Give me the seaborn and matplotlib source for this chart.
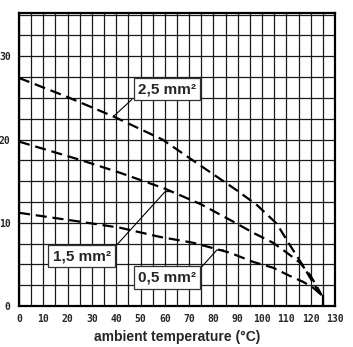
import numpy as np
import seaborn as sns
import matplotlib.pyplot as plt
from matplotlib.ticker import MultipleLocator

# derating curves: ambient temperature (°C) -> current (A)
temp_25 = [0, 20, 39, 59, 74.5, 89.6, 98, 106, 111.5, 116.9, 121.8, 124.5]
curr_25 = [27.4, 25.1, 22.75, 20.0, 16.9, 13.9, 12.1, 9.9, 7.3, 4.8, 2.4, 1.3]

temp_15 = [0, 25.8, 41.6, 60, 75, 89.6, 96.3, 104.5, 110.2, 115.6, 119.8, 123, 124.5]
curr_15 = [19.75, 17.5, 16.0, 14.1, 12.2, 9.9, 8.8, 7.6, 6.4, 5.2, 3.7, 2.1, 1.3]

temp_05 = [0, 25.8, 41.6, 58, 71.6, 86.8, 96.3, 104.5, 111.5, 116.9, 121, 124.5]
curr_05 = [11.2, 10.1, 9.4, 8.3, 7.6, 6.4, 5.3, 4.6, 3.6, 2.9, 2.2, 1.3]

max_temp = 125
x_ticks = list(range(0, 131, 10))
y_ticks = [0, 10, 20, 30]
labels = ["2,5 mm²", "1,5 mm²", "0,5 mm²"]

sns.set_style("white")
fig = plt.figure(figsize=(3.53, 3.47), dpi=100)
ax = fig.add_axes([19 / 353, 41 / 347, 316 / 353, 293 / 347])

for t, c in [(temp_25, curr_25), (temp_15, curr_15), (temp_05, curr_05)]:
    sns.lineplot(x=t, y=c, ax=ax, color="black", lw=1.6, sort=False,
                 estimator=None, linestyle=(0, (5, 2.6)), zorder=3)
ax.vlines(max_temp, 0, curr_25[-1], color="black", lw=1.6, zorder=3)

# leader lines + boxed labels
ax.plot([38.8, 46.4], [22.75, 24.8], color="black", lw=0.8, zorder=2)
ax.plot([40.2, 60.1, 62.8], [7.33, 13.74, 13.74], color="black", lw=0.8, zorder=2)
ax.plot([75.2, 81.4, 84.1], [4.72, 6.73, 6.73], color="black", lw=0.8, zorder=2)

box = dict(boxstyle="square,pad=0.28", fc="white", ec="#333333", lw=0.9)
for (tx, ty), lab in zip([(60.8, 26.06), (25.8, 5.99), (60.8, 3.43)], labels):
    ax.text(tx, ty, lab, ha="center", va="center", fontsize=11,
            fontweight="bold", family="Liberation Sans", bbox=box, zorder=4)

ax.set_xlim(0, 130)
ax.set_ylim(0, 35.2)
ax.set_xticks(x_ticks)
ax.set_yticks(y_ticks)
ax.xaxis.set_minor_locator(MultipleLocator(5))
ax.yaxis.set_minor_locator(MultipleLocator(2.5))
ax.grid(which="both", color="#1a1a1a", lw=0.9, zorder=1)
ax.set_axisbelow(True)
ax.tick_params(which="both", length=0, labelsize=7, pad=6)
for lab in ax.get_xticklabels() + ax.get_yticklabels():
    lab.set_family("DejaVu Sans Mono")
    lab.set_fontweight("bold")

for s in ax.spines.values():
    s.set_linewidth(1.6)
    s.set_color("black")

ax.set_xlabel("ambient temperature (°C)", fontsize=10, fontweight="bold",
              family="Liberation Sans", labelpad=4)

fig.savefig("out.png", dpi=100)
